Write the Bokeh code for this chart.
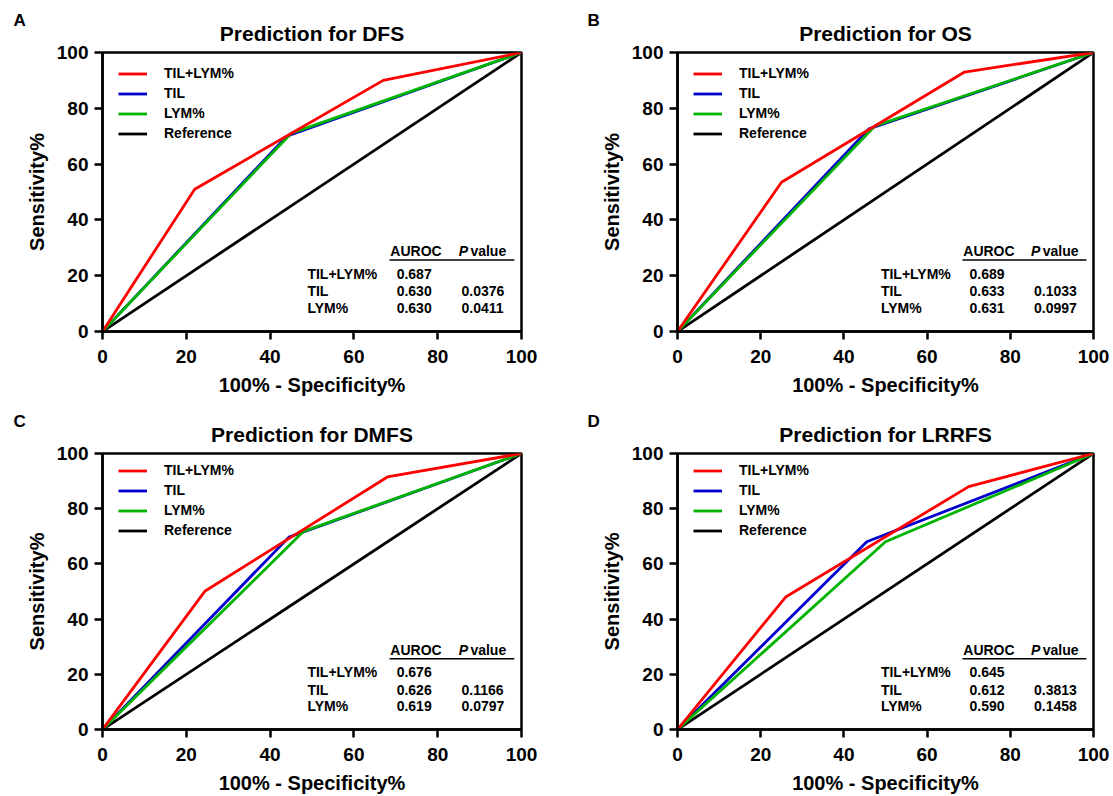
from bokeh.plotting import figure
from bokeh.models import Legend, LegendItem, Title, FixedTicker
from bokeh.layouts import column, row
from bokeh.core.properties import value
from bokeh.embed import file_html
from bokeh.resources import INLINE

FONT = "Liberation Sans"

# ---------------- data ----------------
panel_letters = ["A", "B", "C", "D"]
titles = ["Prediction for DFS", "Prediction for OS", "Prediction for DMFS", "Prediction for LRRFS"]

combo_fpr = [[0, 22, 67, 100], [0, 25, 69, 100], [0, 24.5, 68, 100], [0, 26, 70, 100]]
combo_sens = [[0, 51, 90, 100], [0, 53.5, 93, 100], [0, 50.2, 91.5, 100], [0, 48, 88, 100]]
til_fpr = [[0, 44, 100], [0, 46, 100], [0, 44.5, 100], [0, 45.5, 100]]
til_sens = [[0, 70, 100], [0, 72.6, 100], [0, 69.7, 100], [0, 68, 100]]
lym_fpr = [[0, 45, 100], [0, 47.5, 100], [0, 48, 100], [0, 50, 100]]
lym_sens = [[0, 71, 100], [0, 73.7, 100], [0, 71.8, 100], [0, 68, 100]]
ref_fpr = [0, 100]
ref_sens = [0, 100]

series_labels = ["TIL+LYM%", "TIL", "LYM%", "Reference"]
table_rows = ["TIL+LYM%", "TIL", "LYM%"]
auroc = [["0.687", "0.630", "0.630"],
         ["0.689", "0.633", "0.631"],
         ["0.676", "0.626", "0.619"],
         ["0.645", "0.612", "0.590"]]
pvals = [["", "0.0376", "0.0411"],
         ["", "0.1033", "0.0997"],
         ["", "0.1166", "0.0797"],
         ["", "0.3813", "0.1458"]]
ticks = [0, 20, 40, 60, 80, 100]

RED = "#ff0000"
BLUE = "#0000cc"
GREEN = "#00b400"
BLACK = "#000000"


def make_panel(i, width, height, bl, br, bt, bb, letter_offset):
    p = figure(width=width, height=height, x_range=(0, 100), y_range=(0, 100),
               output_backend="svg", toolbar_location=None,
               min_border_left=bl, min_border_right=br,
               min_border_top=bt, min_border_bottom=bb,
               x_axis_label="100% - Specificity%", y_axis_label="Sensitivity%")
    p.title = None
    p.background_fill_color = "white"
    p.border_fill_color = "white"
    p.grid.visible = False
    p.outline_line_color = BLACK
    p.outline_line_width = 2.5

    main_title = Title(text=titles[i], align="center", text_font=FONT,
                       text_font_size="21px", text_font_style="bold",
                       text_color=BLACK, standoff=16)
    p.add_layout(main_title, "above")
    letter = Title(text=panel_letters[i], align="left", offset=letter_offset,
                   text_font=FONT, text_font_size="17px", text_font_style="bold",
                   text_color=BLACK, standoff=-37)
    p.add_layout(letter, "above")

    for ax in (p.xaxis[0], p.yaxis[0]):
        ax.ticker = FixedTicker(ticks=ticks)
        ax.axis_line_width = 2.5
        ax.axis_line_color = BLACK
        ax.major_tick_line_width = 2.5
        ax.major_tick_line_color = BLACK
        ax.major_tick_out = 8
        ax.major_tick_in = 0
        ax.minor_tick_out = 0
        ax.minor_tick_in = 0
        ax.major_label_text_font = FONT
        ax.major_label_text_font_size = "19px"
        ax.major_label_text_font_style = "bold"
        ax.major_label_text_color = BLACK
        ax.axis_label_text_font = FONT
        ax.axis_label_text_font_size = "20px"
        ax.axis_label_text_font_style = "bold"
        ax.axis_label_text_color = BLACK
    p.xaxis[0].major_label_standoff = 10
    p.xaxis[0].axis_label_standoff = 8
    p.yaxis[0].major_label_standoff = 6
    p.yaxis[0].axis_label_standoff = 6

    lw = 2.8
    r_ref = p.line(ref_fpr, ref_sens, line_color=BLACK, line_width=lw)
    r_til = p.line(til_fpr[i], til_sens[i], line_color=BLUE, line_width=lw)
    r_lym = p.line(lym_fpr[i], lym_sens[i], line_color=GREEN, line_width=lw)
    r_combo = p.line(combo_fpr[i], combo_sens[i], line_color=RED, line_width=lw)

    frame_h = height - bt - bb
    legend = Legend(items=[LegendItem(label=series_labels[0], renderers=[r_combo]),
                           LegendItem(label=series_labels[1], renderers=[r_til]),
                           LegendItem(label=series_labels[2], renderers=[r_lym]),
                           LegendItem(label=series_labels[3], renderers=[r_ref])],
                    location=(16, frame_h - 89), padding=0, margin=0, spacing=4,
                    glyph_width=29, glyph_height=15, label_height=15,
                    label_standoff=17, label_text_font=FONT,
                    label_text_font_style="bold", label_text_font_size="14px",
                    label_text_color=BLACK,
                    border_line_color=None, background_fill_alpha=0)
    p.add_layout(legend)

    # AUROC table
    txt = dict(text_font=value(FONT), text_font_style="bold", text_font_size="14px",
               text_baseline="middle", text_align="left", text_color=BLACK)
    row_y = [20.7, 14.4, 8.5]
    p.text(x=[48.9] * 3, y=row_y, text=table_rows, **txt)
    p.text(x=[70.2] * 3, y=row_y, text=auroc[i], **txt)
    p.text(x=[85.7] * 3, y=row_y, text=pvals[i], **txt)
    p.text(x=[68.7], y=[28.8], text=["AUROC"], **txt)
    p.text(x=[85.0], y=[28.8], text=["P"], text_font=value(FONT), text_font_style="bold italic",
           text_font_size="14px", text_baseline="middle", text_align="left", text_color=BLACK)
    p.text(x=[87.8], y=[28.8], text=["value"], **txt)
    p.segment(x0=[68.5], y0=[25.6], x1=[98.3], y1=[25.6], line_color=BLACK, line_width=1.5)
    return p


pA = make_panel(0, 583, 409, 102, 62, 52, 78, -89)
pB = make_panel(1, 530, 409, 94, 20, 52, 78, -90)
pC = make_panel(2, 583, 387, 102, 62, 44, 63, -89)
pD = make_panel(3, 530, 387, 94, 20, 44, 63, -90)

layout = column(row(pA, pB), row(pC, pD))
open("out.html", "w").write(file_html(layout, INLINE))
